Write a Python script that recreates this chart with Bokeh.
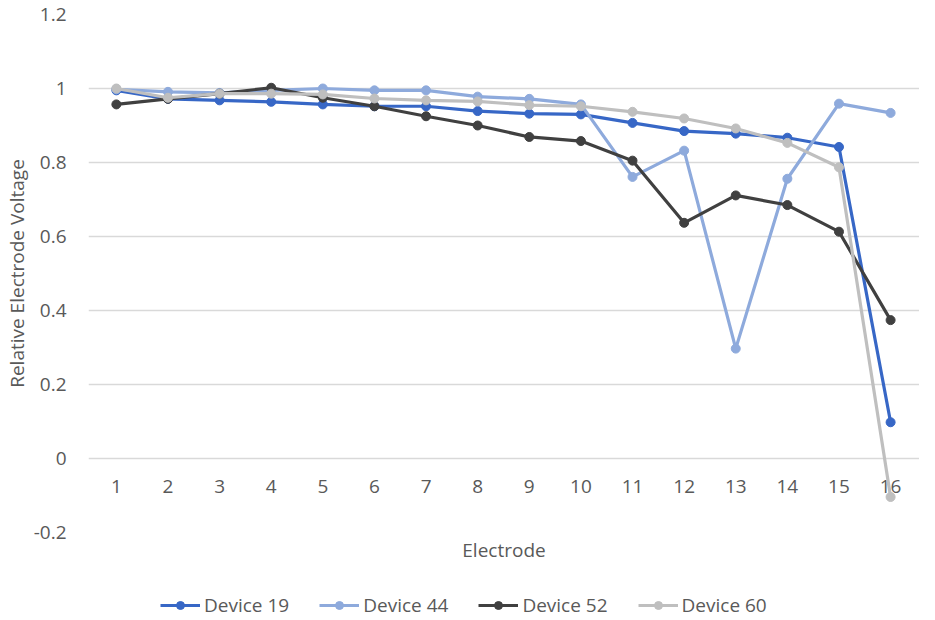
from bokeh.plotting import figure
from bokeh.layouts import column
from bokeh.models import (FixedTicker, CustomJSTickFormatter, Range1d, Legend, LegendItem,
                          ColumnDataSource)
from bokeh.core.properties import value
from bokeh.embed import file_html
from bokeh.resources import INLINE

electrodes = list(range(1, 17))
x_tick_labels = [str(e) for e in electrodes]
y_ticks = [-0.2, 0, 0.2, 0.4, 0.6, 0.8, 1, 1.2]

device_19 = [0.995, 0.972, 0.968, 0.964, 0.957, 0.952, 0.952, 0.939, 0.932, 0.930,
             0.907, 0.885, 0.878, 0.867, 0.842, 0.098]
device_44 = [0.998, 0.991, 0.988, 0.995, 1.000, 0.995, 0.995, 0.978, 0.972, 0.957,
             0.761, 0.832, 0.297, 0.756, 0.959, 0.934]
device_52 = [0.957, 0.972, 0.986, 1.002, 0.975, 0.952, 0.925, 0.900, 0.869, 0.858,
             0.805, 0.637, 0.711, 0.685, 0.613, 0.374]
device_60 = [1.000, 0.975, 0.986, 0.986, 0.984, 0.973, 0.968, 0.965, 0.955, 0.952,
             0.937, 0.919, 0.892, 0.853, 0.787, -0.104]

series_names = ["Device 19", "Device 44", "Device 52", "Device 60"]
series_values = [device_19, device_44, device_52, device_60]
colors = ["#3767c6", "#8eaadc", "#404040", "#bfbfbf"]

FONT = "Open Sans"
TXT = "#595959"
FS = "19px"

p = figure(width=919, height=588, output_backend="svg", toolbar_location=None,
           x_range=Range1d(0.46, 16.56), y_range=Range1d(-0.2, 1.2),
           min_border_left=81, min_border_top=14, min_border_right=0, min_border_bottom=56)
p.outline_line_color = None
p.background_fill_color = "white"

# y axis
p.yaxis.ticker = FixedTicker(ticks=y_ticks)
p.yaxis.formatter = CustomJSTickFormatter(code="return (Math.round(tick*10)/10).toString();")
p.yaxis.axis_line_color = None
p.yaxis.major_tick_line_color = None
p.yaxis.minor_tick_line_color = None
p.yaxis.major_label_text_font = FONT
p.yaxis.major_label_text_font_size = FS
p.yaxis.major_label_text_color = TXT
p.yaxis.major_label_standoff = 16
p.yaxis.axis_label = "Relative Electrode Voltage"
p.yaxis.axis_label_text_font = FONT
p.yaxis.axis_label_text_font_size = FS
p.yaxis.axis_label_text_font_style = "normal"
p.yaxis.axis_label_text_color = TXT
p.yaxis.axis_label_standoff = 1

# x axis: only the title; tick labels drawn at y=0
p.xaxis.ticker = FixedTicker(ticks=[])
p.xaxis.axis_line_color = None
p.xaxis.major_tick_line_color = None
p.xaxis.minor_tick_line_color = None
p.xaxis.major_label_text_font_size = "0px"
p.xaxis.axis_label = "Electrode"
p.xaxis.axis_label_text_font = FONT
p.xaxis.axis_label_text_font_size = FS
p.xaxis.axis_label_text_font_style = "normal"
p.xaxis.axis_label_text_color = TXT
p.xaxis.axis_label_standoff = 4

p.xgrid.grid_line_color = None
p.ygrid.ticker = FixedTicker(ticks=y_ticks)
p.ygrid.grid_line_color = "#d9d9d9"
p.ygrid.grid_line_width = 1.5

lab_src = ColumnDataSource(dict(x=electrodes, y=[0] * len(electrodes), t=x_tick_labels))
p.text(x="x", y="y", text="t", source=lab_src, text_font=value(FONT), text_font_size=FS,
       text_color=TXT, text_align="center", text_baseline="middle", y_offset=28)

for name, vals, c in zip(series_names, series_values, colors):
    src = ColumnDataSource(dict(x=electrodes, y=vals))
    p.line("x", "y", source=src, line_color=c, line_width=3.2)
    p.scatter("x", "y", source=src, size=9, fill_color=c, line_color=c)

# legend in its own strip below the chart (dummy NaN renderers only carry the styles)
lg = figure(width=919, height=30, output_backend="svg", toolbar_location=None,
            x_range=Range1d(0, 1), y_range=Range1d(0, 1),
            min_border=0)
lg.outline_line_color = None
lg.axis.visible = False
lg.grid.visible = False
items = []
nan = float("nan")
for name, c in zip(series_names, colors):
    e = ColumnDataSource(dict(x=[nan], y=[nan]))
    ln = lg.line("x", "y", source=e, line_color=c, line_width=3.2)
    sc = lg.scatter("x", "y", source=e, size=9, fill_color=c, line_color=c)
    items.append(LegendItem(label=name, renderers=[ln, sc]))
legend = Legend(items=items, orientation="horizontal", location=(72, 0),
                label_text_font=FONT, label_text_font_size=FS, label_text_color=TXT,
                glyph_width=40, label_standoff=4, spacing=30, border_line_color=None,
                padding=2, margin=0, background_fill_alpha=0)
lg.add_layout(legend, "center")

layout = column(p, lg, spacing=0)
open("out.html", "w").write(file_html(layout, INLINE))
